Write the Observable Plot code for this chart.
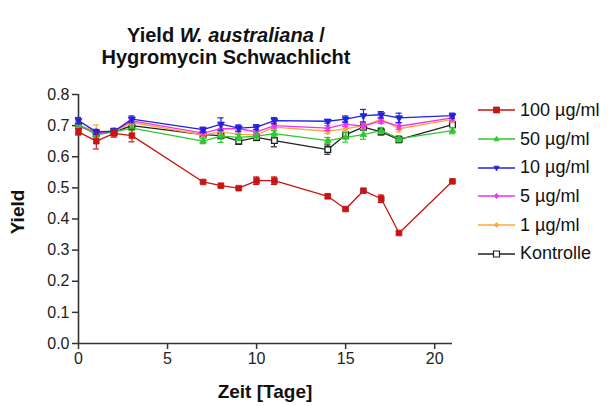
<!DOCTYPE html>
<html><head><meta charset="utf-8">
<script src="https://cdn.jsdelivr.net/npm/d3@7"></script>
<script src="https://cdn.jsdelivr.net/npm/@observablehq/plot@0.6"></script>
<style>
html,body{margin:0;padding:0;background:#fff;}
body{font-family:"Liberation Sans",Arial,sans-serif;color:#111;}
#wrap{position:relative;width:611px;height:406px;overflow:hidden;}
#chart{position:absolute;left:0;top:0;}
.title{position:absolute;left:226px;transform:translateX(-50%);font-weight:bold;font-size:20px;white-space:nowrap;}
#xlab{position:absolute;left:265px;top:381px;transform:translateX(-50%);font-weight:bold;font-size:19px;white-space:nowrap;}
#ylab{position:absolute;left:18px;top:212px;transform:translate(-50%,-50%) rotate(-90deg);font-weight:bold;font-size:19px;white-space:nowrap;}
#legend{position:absolute;left:476px;top:96px;}
.row{display:flex;align-items:center;height:28.7px;font-size:18px;white-space:nowrap;}
.row svg{margin-right:4px;}
</style></head>
<body>
<div id="wrap">
  <div id="chart"></div>
  <div class="title" style="top:24px">Yield <i>W. australiana</i> /</div>
  <div class="title" style="top:46px">Hygromycin Schwachlicht</div>
  <div id="ylab">Yield</div>
  <div id="xlab">Zeit [Tage]</div>
  <div id="legend"></div>
</div>
<script>
// ---- data ----
const days = [0, 1, 2, 3, 7, 8, 9, 10, 11, 14, 15, 16, 17, 18, 21];
const seriesNames = ["100 µg/ml", "50 µg/ml", "10 µg/ml", "5 µg/ml", "1 µg/ml", "Kontrolle"];

const y100 = [0.680, 0.650, 0.675, 0.668, 0.519, 0.507, 0.499, 0.523, 0.523, 0.473, 0.432, 0.491, 0.465, 0.355, 0.521];
const e100 = [0.010, 0.025, 0.012, 0.020, 0.004, 0.004, 0.004, 0.012, 0.012, 0.007, 0.004, 0.005, 0.012, 0.004, 0.004];
const y50  = [0.705, 0.670, 0.680, 0.692, 0.650, 0.666, 0.662, 0.666, 0.674, 0.652, 0.662, 0.671, 0.684, 0.658, 0.684];
const e50  = [0.010, 0.010, 0.010, 0.008, 0.008, 0.020, 0.010, 0.010, 0.010, 0.010, 0.015, 0.015, 0.010, 0.010, 0.010];
const y10  = [0.716, 0.680, 0.682, 0.721, 0.687, 0.705, 0.692, 0.695, 0.716, 0.714, 0.721, 0.732, 0.735, 0.725, 0.732];
const e10  = [0.010, 0.008, 0.008, 0.010, 0.008, 0.020, 0.010, 0.008, 0.010, 0.006, 0.010, 0.020, 0.010, 0.015, 0.008];
const y5   = [0.700, 0.675, 0.682, 0.715, 0.676, 0.690, 0.690, 0.680, 0.700, 0.692, 0.705, 0.698, 0.715, 0.698, 0.725];
const e5   = [0.008, 0.008, 0.010, 0.008, 0.008, 0.010, 0.010, 0.008, 0.008, 0.008, 0.008, 0.010, 0.008, 0.010, 0.008];
const y1   = [0.700, 0.682, 0.680, 0.710, 0.670, 0.680, 0.672, 0.670, 0.695, 0.682, 0.690, 0.700, 0.720, 0.690, 0.720];
const e1   = [0.008, 0.020, 0.010, 0.008, 0.008, 0.010, 0.010, 0.008, 0.008, 0.008, 0.008, 0.010, 0.008, 0.010, 0.008];
const yK   = [0.700, 0.675, 0.680, 0.700, 0.671, 0.668, 0.650, 0.662, 0.652, 0.623, 0.671, 0.695, 0.680, 0.655, 0.703];
const eK   = [0.008, 0.010, 0.010, 0.008, 0.008, 0.010, 0.010, 0.010, 0.020, 0.015, 0.010, 0.010, 0.010, 0.010, 0.008];

const yTicks = [0, 0.1, 0.2, 0.3, 0.4, 0.5, 0.6, 0.7, 0.8];
const xTicks = [0, 5, 10, 15, 20];

// ---- style ----
const styles = {
  "100 µg/ml": {color: "#c81414", symbol: "square", r: 3.2, fill: true, rotate: 0},
  "50 µg/ml":  {color: "#2ec82e", symbol: "triangle", r: 2.4, fill: true, rotate: 0},
  "10 µg/ml":  {color: "#2222dd", symbol: "triangle", r: 2.6, fill: true, rotate: 180},
  "5 µg/ml":   {color: "#ee33ee", symbol: "diamond", r: 2.4, fill: true, rotate: 0},
  "1 µg/ml":   {color: "#ffa640", symbol: "diamond", r: 2.4, fill: true, rotate: 0},
  "Kontrolle": {color: "#222222", symbol: "square", r: 3.2, fill: false, rotate: 0}
};
const values = {"100 µg/ml": [y100, e100], "50 µg/ml": [y50, e50], "10 µg/ml": [y10, e10],
                "5 µg/ml": [y5, e5], "1 µg/ml": [y1, e1], "Kontrolle": [yK, eK]};

const drawOrder = ["Kontrolle", "1 µg/ml", "5 µg/ml", "50 µg/ml", "10 µg/ml", "100 µg/ml"];
const capHalf = 0.17; // half-width of error-bar caps, in days
const finalMarks = [];
for (const name of drawOrder) {
  const [ys, es] = values[name];
  const st = styles[name];
  const rows = days.map((d, i) => ({day: d, y: ys[i], lo: ys[i] - es[i], hi: ys[i] + es[i]}));
  const caps = rows.flatMap(r => [
    {x1: r.day - capHalf, x2: r.day + capHalf, y: r.lo},
    {x1: r.day - capHalf, x2: r.day + capHalf, y: r.hi}
  ]);
  finalMarks.push(Plot.ruleX(rows, {x: "day", y1: "lo", y2: "hi", stroke: st.color, strokeWidth: 1.2}));
  finalMarks.push(Plot.ruleY(caps, {x1: "x1", x2: "x2", y: "y", stroke: st.color, strokeWidth: 1.2}));
  finalMarks.push(Plot.line(rows, {x: "day", y: "y", stroke: st.color, strokeWidth: 1.3}));
  finalMarks.push(Plot.dot(rows, {x: "day", y: "y", symbol: st.symbol, r: st.r, rotate: st.rotate,
    fill: st.fill ? st.color : "white", stroke: st.color, strokeWidth: st.fill ? 0.8 : 1.3}));
}

const plot = Plot.plot({
  width: 611, height: 406,
  marginLeft: 78, marginRight: 159, marginTop: 94, marginBottom: 63,
  style: {fontFamily: "'Liberation Sans', Arial, sans-serif", fontSize: "16px", color: "#222", background: "white", overflow: "visible"},
  x: {domain: [0, 21], label: null},
  y: {domain: [0, 0.8], label: null},
  marks: [
    Plot.axisX({ticks: xTicks, tickFormat: d3.format("d"), tickSize: 6, tickPadding: 3, fontSize: 16, stroke: "#333", strokeWidth: 1.5, label: null}),
    Plot.axisY({ticks: yTicks, tickFormat: d3.format(".1f"), tickSize: 6, tickPadding: 3, fontSize: 16, stroke: "#333", strokeWidth: 1.5, label: null}),
    Plot.ruleX([0], {y1: 0, y2: 0.8, stroke: "#333", strokeWidth: 1.6}),
    Plot.ruleY([0], {x1: 0, x2: 21, stroke: "#333", strokeWidth: 1.6}),
    ...finalMarks
  ]
});
document.getElementById("chart").appendChild(plot);

// ---- legend ----
const legend = document.getElementById("legend");
const symPaths = {
  square: "M-3,-3h6v6h-6z",
  tri: "M0,-2.8L2.6,1.8L-2.6,1.8Z",
  tridown: "M0,2.8L2.6,-1.8L-2.6,-1.8Z",
  diamond: "M0,-2.6L2.2,0L0,2.6L-2.2,0Z"
};
const legendSym = {"100 µg/ml": "square", "50 µg/ml": "tri", "10 µg/ml": "tridown", "5 µg/ml": "diamond", "1 µg/ml": "diamond", "Kontrolle": "square"};
for (const name of seriesNames) {
  const st = styles[name];
  const row = document.createElement("div");
  row.className = "row";
  const fill = st.fill ? st.color : "white";
  row.innerHTML = `<svg width="40" height="12" viewBox="0 0 40 12"><line x1="2" y1="6" x2="39" y2="6" stroke="${st.color}" stroke-width="1.3"/><path transform="translate(20.5,6)" d="${symPaths[legendSym[name]]}" fill="${fill}" stroke="${st.color}" stroke-width="${st.fill ? 0.8 : 1.2}"/></svg><span>${name}</span>`;
  legend.appendChild(row);
}
</script>
</body></html>
